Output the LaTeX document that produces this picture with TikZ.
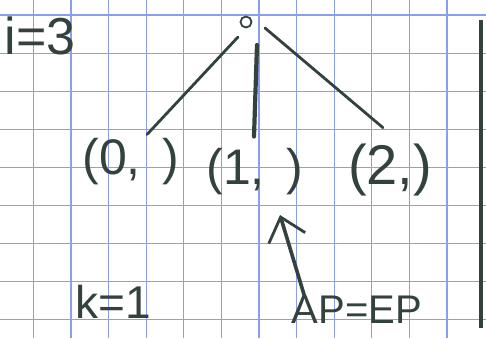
\documentclass[tikz,border=0pt]{standalone}
\usepackage{fontspec}
\setmainfont{Liberation Sans}
\usetikzlibrary{positioning, arrows.meta}
\definecolor{ink}{HTML}{34423F}
\definecolor{gridblue}{HTML}{8A9EF0}
\tikzset{
  hand/.style={text=ink, inner sep=0pt, font=\fontsize{#1}{#1}\selectfont},
  hand/.default=44,
  edge/.style={ink, line width=2.8pt, line cap=round},
}
\begin{document}
\begin{tikzpicture}[x=1pt,y=-1pt]
  \useasboundingbox (0,0) rectangle (486,338);
  % 1. grid paper
  \fill[white] (0,0) rectangle (486,338);
  \foreach \gx in {0,...,11}
    \draw[gridblue, line width=1.2pt] (33.3+37.6*\gx,0) -- (33.3+37.6*\gx,338);
  \foreach \gy in {0,...,8}
    \draw[gridblue, line width=1.2pt] (0,15+38.1*\gy) -- (486,15+38.1*\gy);

  % 2. root and its three children
  \node[draw=ink, circle, line width=1.8pt, minimum size=11pt, inner sep=0pt] (root) at (246,22) {};
  \node[hand=50] (c0) at (131,162) {(0,\;\,)};
  \node[hand=50] (c1) at (255,172) {(1,\;\,)};
  \node[hand=56] (c2) at (390,170) {(2,)};

  % 3. edges from the root
  \draw[edge] ([xshift=-8pt,yshift=-15pt]root.center) -- ([xshift=16pt,yshift=4pt]c0.north);
  \draw[edge, line width=4.2pt] ([xshift=11pt,yshift=-23pt]root.center) -- ([xshift=-1pt,yshift=12pt]c1.north);
  \draw[edge] ([xshift=19pt,yshift=-6pt]root.center) -- ([xshift=-7pt,yshift=16pt]c2.north);

  % 4. labels
  \node[hand=52] (iter) at (40,36) {i=3};
  \node[hand=46] (kval) at (113,302) {k=1};
  \node[hand=40] (ap) at (357,310) {AP=EP};

  % 5. arrow to the second child
  \coordinate (tip) at (280,215);
  \draw[edge, line width=3.6pt, -{Straight Barb[length=22pt, width=38pt, line width=2.8pt]}]
    ([xshift=13pt,yshift=-1pt]ap.north west) -- (tip);

  % 6. margin bar
  \draw[ink, line width=4pt] (481,20) -- (481,328);
\end{tikzpicture}
\end{document}
